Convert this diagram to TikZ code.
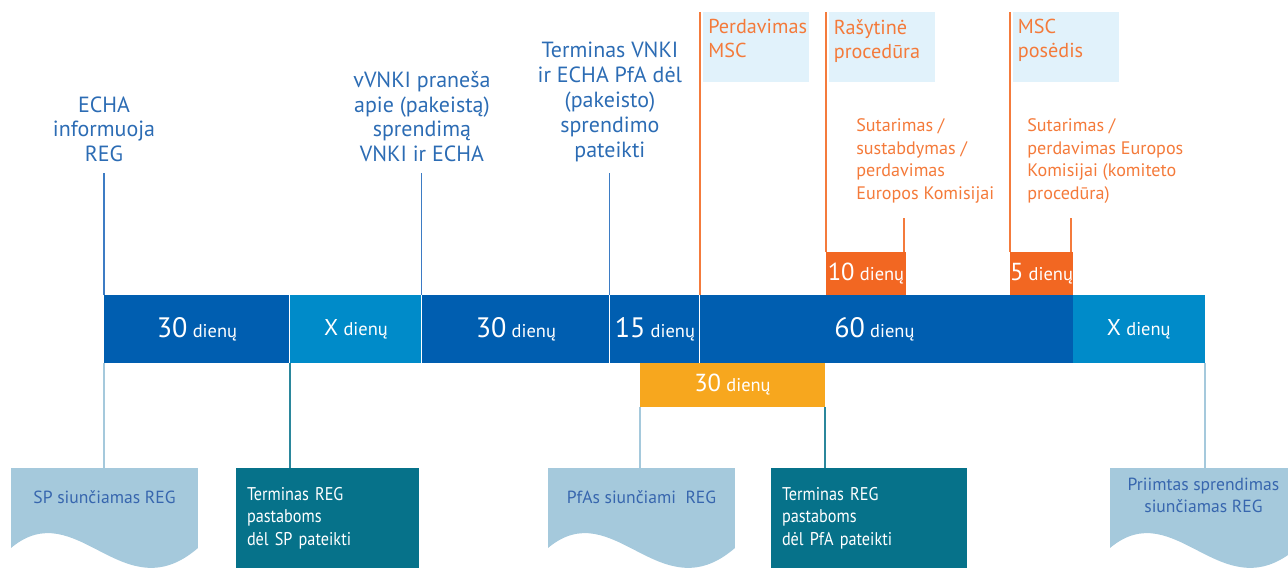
\documentclass[tikz,border=0pt]{standalone}
\usepackage{fontspec}
\setmainfont{PT Sans}
\newfontfamily\siaura[FakeStretch=0.88]{PT Sans}
\usetikzlibrary{positioning,calc}

\definecolor{barDark}{HTML}{005EB0}
\definecolor{barLight}{HTML}{008BC9}
\definecolor{barOrange}{HTML}{F7A71E}
\definecolor{dayRed}{HTML}{F26722}
\definecolor{mscText}{HTML}{F47A3A}
\definecolor{mscLine}{HTML}{F47B3C}
\definecolor{mscFill}{HTML}{E1F2FB}
\definecolor{labelBlue}{HTML}{2C6CB4}
\definecolor{tickBlue}{HTML}{3D7CC4}
\definecolor{docFill}{HTML}{A5C9DC}
\definecolor{docText}{HTML}{3766AE}
\definecolor{regTeal}{HTML}{06728A}

\newcommand{\dienu}[2][16]{{\fontsize{#1}{#1}\selectfont #2}\hspace{3pt}{\fontsize{10.5}{12}\selectfont dienų}}

\begin{document}
\begin{tikzpicture}[x=0.02cm,y=-0.02cm,node distance=0pt]
\tikzstyle{seg} = [rectangle, fill=barDark, text=white, minimum height=1.36cm, inner sep=0pt, outer sep=0pt]
\tikzstyle{segx} = [seg, fill=barLight]
\tikzstyle{days} = [rectangle, fill=dayRed, text=white, minimum height=0.86cm, inner sep=0pt, outer sep=0pt, anchor=north west]
\tikzstyle{toplabel} = [align=center, text=labelBlue, font=\fontsize{12.5}{14.2}\selectfont, inner sep=0pt]
\tikzstyle{tick} = [draw=tickBlue, line width=0.6pt]
\tikzstyle{mscbox} = [rectangle, fill=mscFill, minimum width=2.12cm, minimum height=1.4cm, anchor=north west, inner sep=0pt, outer sep=0pt]
\tikzstyle{msctext} = [align=left, text=mscText, font=\fontsize{11.5}{13.6}\selectfont, inner sep=0pt, anchor=north west]
\tikzstyle{mscline} = [draw=mscLine, line width=0.8pt]
\tikzstyle{outcome} = [align=left, text=mscText, font=\fontsize{10.3}{13}\selectfont, inner sep=0pt, anchor=north west]
\tikzstyle{doc} = [rectangle, minimum width=3.74cm, minimum height=2cm, anchor=north west, inner sep=0pt, outer sep=0pt]
\tikzstyle{doctext} = [align=center, text=docText, font=\fontsize{10}{12.5}\selectfont, inner sep=0pt]
\tikzstyle{regbox} = [rectangle, fill=regTeal, text=white, minimum height=2cm, anchor=north west, align=left, inner xsep=0.22cm, inner ysep=0pt, outer sep=0pt, font=\siaura\fontsize{10.5}{12.8}\selectfont]
\tikzstyle{docline} = [draw=docFill, line width=1pt]
\tikzstyle{regline} = [draw=regTeal!85!white, line width=0.8pt]

\useasboundingbox (0,0) rectangle (1288,568);

% time bar
\node[seg, minimum width=3.72cm, anchor=north west] (s1) at (104,295) {\dienu{30}};
\node[segx, minimum width=2.64cm, right=of s1] (s2) {\dienu[13]{X}};
\node[seg, minimum width=3.76cm, right=of s2] (s3) {\dienu{30}};
\node[seg, minimum width=1.8cm, right=of s3] (s4) {\dienu{15}};
\node[seg, minimum width=7.46cm, right=of s4] (s5) {\dienu{60}\hspace*{0.48cm}};
\node[segx, minimum width=2.64cm, right=of s5] (s6) {\dienu[13]{X}};
\foreach \s in {s2,s3,s4,s5}
  \draw[white, line width=0.6pt] (\s.north west) -- (\s.south west);
\node[seg, fill=barOrange, minimum width=3.7cm, minimum height=0.88cm, anchor=north west] (o1) at (640,363) {\dienu[14]{30}};

% labels above the bar
\node[toplabel, above=2.65cm of s1.north west] (echa) {ECHA\\informuoja\\REG};
\node[toplabel, above=2.65cm of s3.north west] (vnki) {vVNKI praneša\\apie (pakeistą)\\sprendimą\\VNKI ir ECHA};
\node[toplabel, above=2.65cm of s4.north west] (termin) {Terminas VNKI\\ir ECHA PfA dėl\\(pakeisto)\\sprendimo\\pateikti};
\draw[tick, shorten >=0.2cm] (s1.north west) -- (s1.north west |- echa.south);
\draw[tick, shorten >=0.2cm] (s3.north west) -- (s3.north west |- vnki.south);
\draw[tick, shorten >=0.2cm] (s4.north west) -- (s4.north west |- termin.south);

% MSC part
\node[mscbox] (perd) at (703,12) {};
\node[mscbox] (rasyt) at (829,12) {};
\node[mscbox] (posed) at (1013,12) {};
\node[msctext] (perdt) at ([xshift=0.1cm,yshift=-0.14cm]perd.north west) {Perdavimas\\MSC};
\node[msctext] (rasytt) at ([xshift=0.09cm,yshift=-0.14cm]rasyt.north west) {Rašytinė\\procedūra};
\node[msctext] (posedt) at ([xshift=0.09cm,yshift=-0.14cm]posed.north west) {MSC\\posėdis};
\node[days, minimum width=1.6cm] (r1) at (826,252) {\dienu[14]{10}};
\node[days, minimum width=1.26cm] (r2) at (1010,252) {\dienu[14]{5}};
\draw[mscline] (s5.north west) -- (s5.north west |- perd.north);
\draw[mscline] (r1.north west) -- (r1.north west |- rasyt.north);
\draw[mscline] (r2.north west) -- (r2.north west |- posed.north);
\node[outcome] (sut1) at (856,118) {Sutarimas /\\sustabdymas /\\perdavimas\\Europos Komisijai};
\node[outcome] (sut2) at (1027,118) {Sutarimas /\\perdavimas Europos\\Komisijai (komiteto\\procedūra)};
\draw[mscline, shorten >=0.28cm] ([xshift=-0.04cm]r1.north east) -- ([xshift=-0.04cm]r1.north east |- sut1.south);
\draw[mscline, shorten >=0.28cm] ([xshift=-0.04cm]r2.north east) -- ([xshift=-0.04cm]r2.north east |- sut2.south);

% documents and deadlines below
\node[doc] (spdoc) at (11,468) {};
\node[doc] (pfadoc) at (548,468) {};
\node[doc] (priimdoc) at (1110,468) {};
\foreach \d in {spdoc,pfadoc,priimdoc}
  \fill[docFill] (\d.north west) -- (\d.north east) -- ($(\d.north east)+(0cm,-1.6cm)$)
    .. controls ($(\d.north west)+(2.24cm,-2.9cm)$) and ($(\d.north west)+(1.31cm,-0.5cm)$) .. ($(\d.north west)+(0cm,-1.6cm)$) -- cycle;
\node[doctext] (sptxt) at ([yshift=-0.58cm]spdoc.north) {SP siunčiamas REG};
\node[doctext] (pfatxt) at ([yshift=-0.58cm]pfadoc.north) {PfAs siunčiami~ REG};
\node[doctext] (priimtxt) at ([yshift=-0.54cm]priimdoc.north) {Priimtas sprendimas\\siunčiamas REG};
\node[regbox, text width=3.22cm] (reg1) at (236,468) {Terminas REG\\pastaboms\\dėl SP pateikti};
\node[regbox, text width=3.48cm] (reg2) at (771,468) {Terminas REG\\pastaboms\\dėl PfA pateikti};
\draw[docline] (s1.south west) -- (s1.south west |- spdoc.north);
\draw[regline] (s2.south west) -- (s2.south west |- reg1.north);
\draw[docline] (o1.south west) -- (o1.south west |- pfadoc.north);
\draw[regline] (o1.south east) -- (o1.south east |- reg2.north);
\draw[docline] (s6.south east) -- (s6.south east |- priimdoc.north);
\end{tikzpicture}
\end{document}
